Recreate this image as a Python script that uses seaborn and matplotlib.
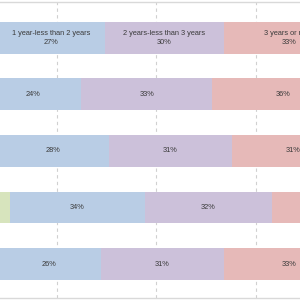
import numpy as np
import pandas as pd
import matplotlib
matplotlib.use("Agg")
import matplotlib.pyplot as plt
import seaborn as sns

groups = ["Group A", "Group B", "Group C", "Group D", "Group E"]
segments = ["Less than 1 year", "1 year-less than 2 years",
            "2 years-less than 3 years", "3 years or more"]
less_1 = [10, 7, 10, 13, 10]
y1_2 = [27, 24, 28, 34, 26]
y2_3 = [30, 33, 31, 32, 31]
y3_plus = [33, 36, 31, 21, 33]
colors = ["#D7E4BD", "#B9CDE5", "#CCC1DA", "#E6B9B8"]

vals = np.array([less_1, y1_2, y2_3, y3_plus], dtype=float)
cum = vals.cumsum(axis=0)

sns.set_theme(style="white")
plt.rcParams["font.family"] = ["Liberation Sans", "DejaVu Sans"]

fig = plt.figure(figsize=(3, 3), dpi=100)
# axes extends past the figure edges (cropped chart)
ax = fig.add_axes([-42 / 300, 2 / 300, 397 / 300, 296 / 300])

for xg in [25, 50, 75]:
    ax.axvline(xg, color="#D0D0D0", lw=0.8, ls=(0, (3, 3)), zorder=0)

for i in range(3, -1, -1):
    df = pd.DataFrame({"group": groups, "value": cum[i]})
    sns.barplot(data=df, x="value", y="group", orient="h", color=colors[i],
                saturation=1, width=0.56, ax=ax, zorder=2, edgecolor="none")

for i in range(1, 4):
    for j in range(len(groups)):
        center = cum[i, j] - vals[i, j] / 2
        pct = f"{int(vals[i, j])}%"
        txt = f"{segments[i]}\n{pct}" if j == 0 else pct
        ax.text(center, j, txt, ha="center", va="center", fontsize=5.3,
                color="#3A3A3A", linespacing=1.35, zorder=3)

ax.set_xlim(0, 100)
ax.set_ylim(4.6, -0.63)
ax.set_xlabel("")
ax.set_ylabel("")
ax.set_xticks([])
ax.set_yticks([])
for s in ["left", "right"]:
    ax.spines[s].set_visible(False)
for s in ["top", "bottom"]:
    ax.spines[s].set_color("#D9D9D9")
    ax.spines[s].set_linewidth(1.0)

fig.savefig("out.png", dpi=100)
